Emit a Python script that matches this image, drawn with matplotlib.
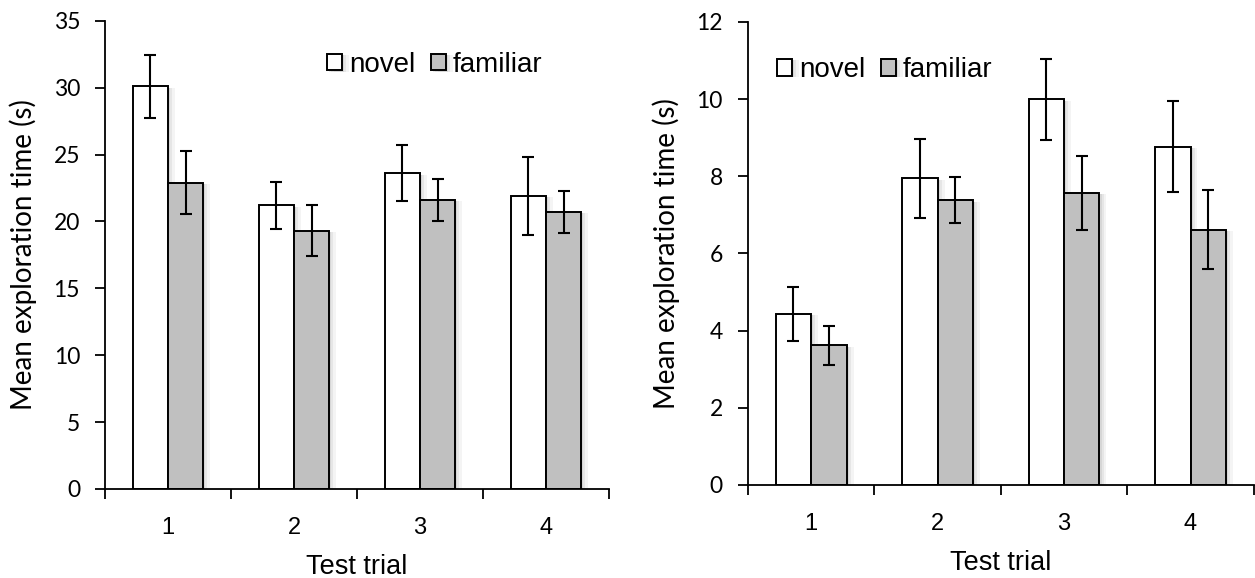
import numpy as np
import matplotlib
matplotlib.use("Agg")
import matplotlib.pyplot as plt
import matplotlib.patheffects as pe
from matplotlib.ticker import FixedLocator

plt.rcParams['font.family'] = ['Liberation Sans', 'DejaVu Sans']

# Dados
trials = ['1', '2', '3', '4']

left_novel = [30.1, 21.2, 23.6, 21.9]
left_novel_err = [2.35, 1.75, 2.1, 2.9]
left_familiar = [22.9, 19.3, 21.6, 20.7]
left_familiar_err = [2.35, 1.9, 1.55, 1.55]

right_novel = [4.43, 7.95, 10.0, 8.77]
right_novel_err = [0.7, 1.02, 1.05, 1.17]
right_familiar = [3.62, 7.38, 7.57, 6.62]
right_familiar_err = [0.5, 0.6, 0.95, 1.02]


def draw_panel(ax, novel, novel_err, familiar, familiar_err, ymax, ystep, legend_pos):
    x = np.arange(1, len(trials) + 1)
    w = 0.28
    # sombra suave a direita das barras
    shadow = [pe.SimplePatchShadow(offset=(5, -1), shadow_rgbFace='#999999', alpha=0.1),
              pe.SimplePatchShadow(offset=(3, -1), shadow_rgbFace='#999999', alpha=0.15),
              pe.SimplePatchShadow(offset=(1.5, -1), shadow_rgbFace='#999999', alpha=0.2),
              pe.Normal()]
    b1 = ax.bar(x - w / 2, novel, w, color='white', edgecolor='black', linewidth=1.4,
                label='novel', zorder=2)
    b2 = ax.bar(x + w / 2, familiar, w, color='#c0c0c0', edgecolor='black', linewidth=1.4,
                label='familiar', zorder=2)
    for b in list(b1) + list(b2):
        b.set_path_effects(shadow)
    ax.errorbar(x - w / 2, novel, yerr=novel_err, fmt='none', ecolor='black',
                elinewidth=1.5, capsize=4, capthick=1.5, zorder=3)
    ax.errorbar(x + w / 2, familiar, yerr=familiar_err, fmt='none', ecolor='black',
                elinewidth=1.5, capsize=4, capthick=1.5, zorder=3)

    ax.set_xlim(0.5, len(trials) + 0.5)
    ax.set_ylim(0, ymax)
    yt = np.arange(0, ymax + 0.01, ystep)
    ax.set_yticks(yt)
    ax.set_yticklabels([f'{v:g}' for v in yt], fontsize=16.5, family=['Lato', 'DejaVu Sans'])

    # rotulos no centro, marcas entre os grupos
    ax.set_xticks(x)
    ax.set_xticklabels(trials)
    ax.xaxis.set_minor_locator(FixedLocator(np.arange(0.5, len(trials) + 1, 1.0)))
    ax.tick_params(axis='x', which='major', length=0, pad=20, labelsize=17)
    ax.tick_params(axis='x', which='minor', direction='out', length=7, width=1.3)
    ax.tick_params(axis='y', direction='out', length=7, width=1.3, pad=11)

    for s in ['top', 'right']:
        ax.spines[s].set_visible(False)
    ax.spines['left'].set_linewidth(1.3)
    ax.spines['bottom'].set_linewidth(1.3)
    ax.spines['bottom'].set_zorder(4)

    ax.set_xlabel('Test trial', fontsize=19.5, labelpad=11)
    ax.set_ylabel('Mean exploration time (s)', fontsize=20, labelpad=12,
                  family=['Lato', 'DejaVu Sans'])

    ax.legend(loc='center left', bbox_to_anchor=legend_pos, ncol=2, frameon=False,
              fontsize=20, handlelength=0.55, handleheight=0.55, handletextpad=0.25,
              columnspacing=0.55, borderaxespad=0, borderpad=0)


fig = plt.figure(figsize=(12.55, 5.78), dpi=100)
ax1 = fig.add_axes([0.0837, 0.154, 0.4016, 0.810])
ax2 = fig.add_axes([0.596, 0.161, 0.403, 0.801])

draw_panel(ax1, left_novel, left_novel_err, left_familiar, left_familiar_err, 35, 5,
           (0.44, 0.906))
draw_panel(ax2, right_novel, right_novel_err, right_familiar, right_familiar_err, 12, 2,
           (0.057, 0.896))

plt.savefig('out.png', dpi=100)
